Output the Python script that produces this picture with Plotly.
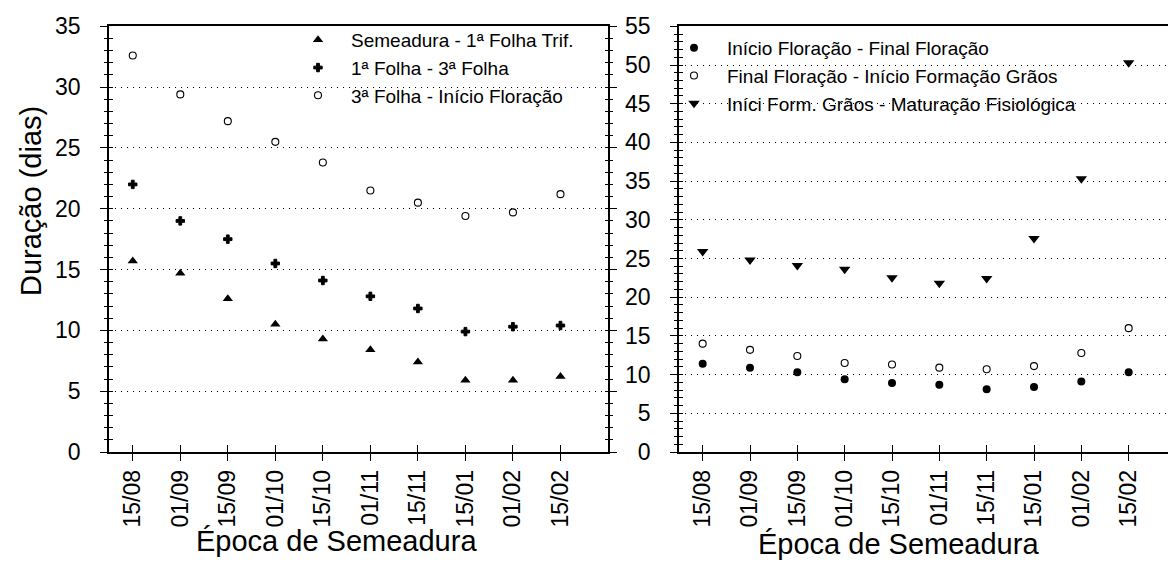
import plotly.graph_objects as go

# ---------------- data ----------------
epocas = ["15/08", "01/09", "15/09", "01/10", "15/10", "01/11", "15/11", "15/01", "01/02", "15/02"]

# left panel
sem_folha_trif = [15.7, 14.7, 12.6, 10.5, 9.3, 8.4, 7.4, 5.9, 5.9, 6.2]
folha1_folha3 = [22.0, 19.0, 17.5, 15.5, 14.1, 12.8, 11.8, 9.9, 10.3, 10.4]
folha3_ini_flor = [32.6, 29.4, 27.2, 25.5, 23.8, 21.5, 20.5, 19.4, 19.7, 21.2]

# right panel
ini_flor_fin_flor = [11.4, 10.9, 10.3, 9.4, 8.9, 8.7, 8.1, 8.4, 9.1, 10.3]
fin_flor_ini_graos = [14.0, 13.2, 12.4, 11.5, 11.3, 10.9, 10.7, 11.1, 12.8, 16.0]
ini_graos_maturacao = [25.9, 24.8, 24.1, 23.6, 22.5, 21.8, 22.4, 27.6, 35.3, 50.3]

names_left = ["Semeadura - 1ª Folha Trif.", "1ª Folha - 3ª Folha", "3ª Folha - Início Floração"]
names_right = ["Início Floração - Final Floração", "Final Floração - Início Formação Grãos",
               "Iníci Form. Grãos - Maturação Fisiológica"]

xpos = list(range(len(epocas)))

W, H = 1176, 564
FONT = "Liberation Sans, Arial, sans-serif"
BLACK = "#000000"

fig = go.Figure()

# left traces
fig.add_trace(go.Scatter(x=xpos, y=sem_folha_trif, mode="markers", name=names_left[0],
                         marker=dict(symbol="triangle-up", size=9, color=BLACK),
                         xaxis="x", yaxis="y", legend="legend"))
fig.add_trace(go.Scatter(x=xpos, y=folha1_folha3, mode="markers", name=names_left[1],
                         marker=dict(symbol="cross", size=7, color=BLACK, line=dict(color=BLACK, width=1)),
                         xaxis="x", yaxis="y", legend="legend"))
fig.add_trace(go.Scatter(x=xpos, y=folha3_ini_flor, mode="markers", name=names_left[2],
                         marker=dict(symbol="circle-open", size=7, color=BLACK, line=dict(color=BLACK, width=1.1)),
                         xaxis="x", yaxis="y", legend="legend"))

# right traces
fig.add_trace(go.Scatter(x=xpos, y=ini_flor_fin_flor, mode="markers", name=names_right[0],
                         marker=dict(symbol="circle", size=8, color=BLACK),
                         xaxis="x2", yaxis="y2", legend="legend2"))
fig.add_trace(go.Scatter(x=xpos, y=fin_flor_ini_graos, mode="markers", name=names_right[1],
                         marker=dict(symbol="circle-open", size=7, color=BLACK, line=dict(color=BLACK, width=1.1)),
                         xaxis="x2", yaxis="y2", legend="legend2"))
fig.add_trace(go.Scatter(x=xpos, y=ini_graos_maturacao, mode="markers", name=names_right[2],
                         marker=dict(symbol="triangle-down", size=10, color=BLACK),
                         xaxis="x2", yaxis="y2", legend="legend2"))

# dummy empty traces to instantiate overlay axes (for crossing ticks)
for xa, ya in [("x3", "y"), ("x", "y3"), ("x4", "y2"), ("x2", "y4")]:
    fig.add_trace(go.Scatter(x=[], y=[], xaxis=xa, yaxis=ya, showlegend=False, hoverinfo="skip"))

ydom = [1 - 444 / H, 1 - 18.3 / H]
xdomL = [101 / W, 600 / W]
xdomR = [671 / W, 1168 / W]
xrange_ = [-0.5, 10.0]

tickfont = dict(family=FONT, size=23, color=BLACK)

def xaxis_main(domain, anchor):
    return dict(domain=domain, anchor=anchor, range=xrange_, tickvals=xpos, ticktext=epocas,
                tickangle=-90, tickfont=tickfont, ticks="outside", ticklen=7, tickwidth=1.2,
                tickcolor=BLACK, showline=True, linecolor=BLACK, linewidth=1.5, mirror=True,
                showgrid=False, zeroline=False, automargin=False, fixedrange=True)

def xaxis_overlay(over, anchor):
    return dict(overlaying=over, anchor=anchor, range=xrange_, tickvals=xpos, ticks="inside",
                ticklen=7, tickwidth=1.2, tickcolor=BLACK, showticklabels=False, showline=False,
                showgrid=False, zeroline=False, automargin=False, fixedrange=True)

def yaxis_main(domain, anchor, rng):
    return dict(domain=domain, anchor=anchor, range=rng, dtick=5, tick0=0, tickfont=tickfont,
                ticks="outside", ticklen=7, tickwidth=1.2, tickcolor=BLACK,
                minor=dict(dtick=1, ticks="outside", ticklen=3.5, tickwidth=1.2, tickcolor=BLACK, showgrid=False),
                showline=True, linecolor=BLACK, linewidth=1.5, mirror="ticks",
                showgrid=True, gridcolor=BLACK, gridwidth=1, griddash="1px,5px",
                zeroline=False, automargin=False, fixedrange=True, ticklabelstandoff=15)

def yaxis_overlay(over, anchor, rng):
    return dict(overlaying=over, anchor=anchor, range=rng, dtick=5, tick0=0,
                ticks="inside", ticklen=3.5, tickwidth=1.2, tickcolor=BLACK,
                minor=dict(dtick=1, ticks="inside", ticklen=3.5, tickwidth=1.2, tickcolor=BLACK, showgrid=False),
                showticklabels=False, showline=False, mirror="ticks", showgrid=False,
                zeroline=False, automargin=False, fixedrange=True)

legfont = dict(family=FONT, size=19, color=BLACK)
titlefont = dict(family=FONT, size=29, color=BLACK)

fig.update_layout(
    width=W, height=H,
    margin=dict(l=0, r=0, t=0, b=0),
    paper_bgcolor="white", plot_bgcolor="white",
    font=dict(family=FONT, color=BLACK),
    xaxis=xaxis_main(xdomL, "y"),
    yaxis=yaxis_main(ydom, "x", [0, 35]),
    xaxis2=xaxis_main(xdomR, "y2"),
    yaxis2=yaxis_main(ydom, "x2", [0, 55]),
    xaxis3=xaxis_overlay("x", "y"),
    yaxis3=yaxis_overlay("y", "x", [0, 35]),
    xaxis4=xaxis_overlay("x2", "y2"),
    yaxis4=yaxis_overlay("y2", "x2", [0, 55]),
    legend=dict(x=277 / W, y=1 - 13 / H, xanchor="left", yanchor="top",
                font=legfont, bgcolor="rgba(0,0,0,0)", borderwidth=0, itemwidth=56),
    legend2=dict(x=653 / W, y=1 - 21 / H, xanchor="left", yanchor="top",
                 font=legfont, bgcolor="rgba(0,0,0,0)", borderwidth=0, itemwidth=56),
    annotations=[
        dict(text="Duração (dias)", x=23 / W, y=1 - 193 / H, xref="paper", yref="paper",
             xanchor="center", yanchor="middle",
             textangle=-90, showarrow=False, font=titlefont),
        dict(text="Época de Semeadura", x=328 / W, y=1 - 533 / H, xref="paper", yref="paper",
             xanchor="center", yanchor="middle",
             showarrow=False, font=titlefont),
        dict(text="Época de Semeadura", x=890 / W, y=1 - 536 / H, xref="paper", yref="paper",
             xanchor="center", yanchor="middle",
             showarrow=False, font=titlefont),
    ],
)

fig.write_html("out.html")
